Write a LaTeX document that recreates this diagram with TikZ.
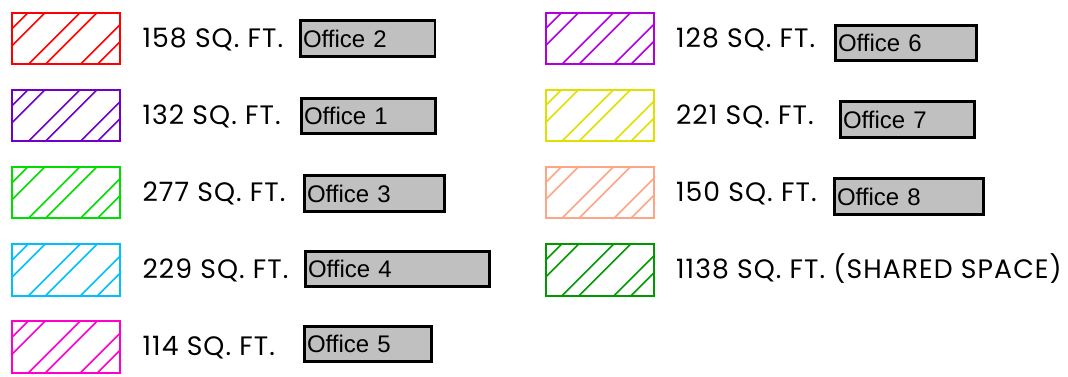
\documentclass[tikz,border=0pt]{standalone}
\usepackage{fontspec}
\newfontfamily\cadfont{Poppins}[LetterSpace=4]
\newfontfamily\officefont{Liberation Sans}
\usetikzlibrary{
  calc,
  positioning
}
\definecolor{offtwo}{HTML}{FF0000}
\definecolor{offone}{HTML}{6E00C8}
\definecolor{offthree}{HTML}{00DD00}
\definecolor{offfour}{HTML}{00BFFF}
\definecolor{offfive}{HTML}{FF00CC}
\definecolor{offsix}{HTML}{B000E0}
\definecolor{offseven}{HTML}{E0E000}
\definecolor{offeight}{HTML}{FFA585}
\definecolor{sharedspace}{HTML}{009900}
\definecolor{boxgray}{HTML}{C0C0C0}

\begin{document}
\begin{tikzpicture}[x=0.75pt, y=-0.75pt]

\tikzset{
  swatch/.style={
    draw=#1,
    rectangle,
    line width=1.5pt,
    minimum width=81pt,
    minimum height=38.5pt,
    inner sep=0pt,
    path picture={
      \foreach \u in {16,33,68,85,120,137}
        \draw[#1, line width=1.2pt]
          ($(path picture bounding box.north west)+(\u+6,-6)$) -- ++(-80,80);
    }
  },
  arealabel/.style={
    inner sep=0pt,
    text height=13.5pt,
    text depth=0pt,
    font=\cadfont\fontsize{20}{22}\selectfont
  },
  officebox/.style={
    draw=black,
    fill=boxgray,
    rectangle,
    line width=2pt,
    anchor=west,
    minimum height=26.6pt,
    inner xsep=2pt,
    text width=#1,
    align=left,
    font=\officefont\fontsize{18}{20}\selectfont
  }
}

\useasboundingbox (0,0) rectangle (1068,377);

% NODES ----------------------------------------------------------

% Swatches, left column
\node[swatch=offtwo]   (sw2) at (66, 38.5)  {};
\node[swatch=offone]   (sw1) at (66, 115.5) {};
\node[swatch=offthree] (sw3) at (66, 192.5) {};
\node[swatch=offfour]  (sw4) at (66, 270)   {};
\node[swatch=offfive]  (sw5) at (66, 347)   {};

% Swatches, right column
\node[swatch=offsix]      (sw6)      at (599.5, 38.5)  {};
\node[swatch=offseven]    (sw7)      at (599.5, 115.5) {};
\node[swatch=offeight]    (sw8)      at (599.5, 192.5) {};
\node[swatch=sharedspace] (swshared) at (599.5, 270)   {};

% Areas
\node[arealabel, right=16pt of sw2] (area2) {158 SQ. FT.};
\node[arealabel, right=16pt of sw1] (area1) {132 SQ. FT.};
\node[arealabel, right=16pt of sw3] (area3) {277 SQ. FT.};
\node[arealabel, right=16pt of sw4] (area4) {229 SQ. FT.};
\node[arealabel, right=16pt of sw5] (area5) {114 SQ. FT.};
\node[arealabel, right=16pt of sw6] (area6) {128 SQ. FT.};
\node[arealabel, right=16pt of sw7] (area7) {221 SQ. FT.};
\node[arealabel, right=16pt of sw8] (area8) {150 SQ. FT.};
\node[arealabel, right=16pt of swshared] (areashared) {1138 SQ. FT. (SHARED SPACE)};

% Office names
\node[officebox=97pt]  (off2) at (299, 38.5)  {Office 2};
\node[officebox=96.6pt](off1) at (300, 116)   {Office 1};
\node[officebox=101pt] (off3) at (303, 193.5) {Office 3};
\node[officebox=134pt] (off4) at (304, 269)   {Office 4};
\node[officebox=91.4pt](off5) at (303, 344)   {Office 5};
\node[officebox=102pt] (off6) at (834, 43)    {Office 6};
\node[officebox=96.6pt](off7) at (839, 119.5) {Office 7};
\node[officebox=108pt] (off8) at (833, 196.5) {Office 8};

\end{tikzpicture}
\end{document}
